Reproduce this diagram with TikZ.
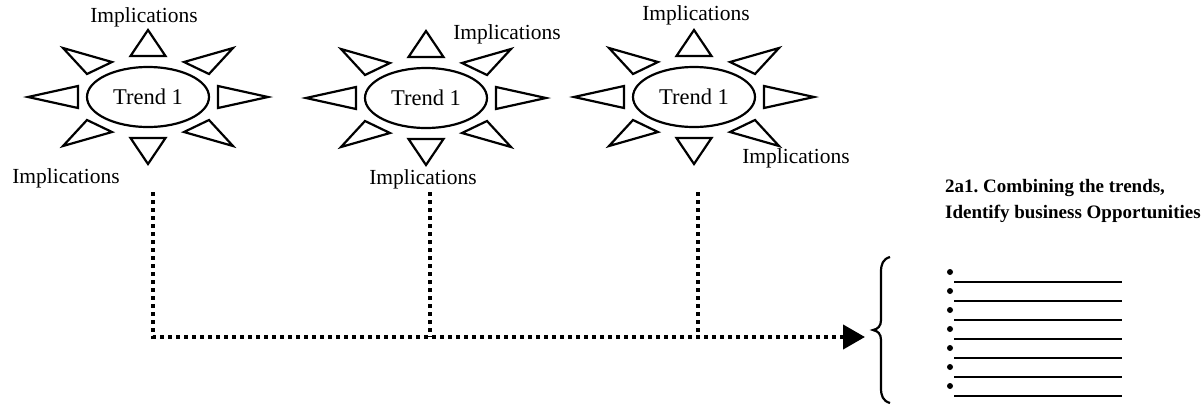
\documentclass[tikz,border=0pt]{standalone}
\usepackage{fontspec}
\setmainfont{Liberation Serif}
\usetikzlibrary{arrows.meta,shapes.geometric}

% eight outlined triangular rays around a centre point
\newcommand\sunrays[1]{%
  \begin{scope}[shift={(#1)}]
    \draw[ray] (0,-67) -- (-17.5,-41) -- (17.5,-41) -- cycle;
    \draw[ray] (0,67) -- (-17.5,41) -- (17.5,41) -- cycle;
    \draw[ray] (-120,0) -- (-70,-11) -- (-70,11) -- cycle;
    \draw[ray] (120,0) -- (70,-11) -- (70,11) -- cycle;
    \draw[ray] (-85,-49) -- (-36,-35) -- (-61,-23) -- cycle;
    \draw[ray] (85,-49) -- (36,-35) -- (61,-23) -- cycle;
    \draw[ray] (-85,49) -- (-36,35) -- (-61,23) -- cycle;
    \draw[ray] (85,49) -- (36,35) -- (61,23) -- cycle;
  \end{scope}}

\begin{document}
\frenchspacing
\begin{tikzpicture}[x=1pt,y=-1pt,
  ray/.style={draw,line width=2.2pt,line join=miter},
  core/.style={draw,ellipse,line width=2.2pt,minimum width=122pt,
    minimum height=60pt,inner sep=0pt,font=\fontsize{22.5}{24}\selectfont},
  impl/.style={inner sep=0pt,font=\fontsize{21.5}{24}\selectfont},
  flow/.style={line width=4.2pt,dash pattern=on 4.2pt off 3.8pt},
  head/.style={inner sep=0pt,align=left,
    font=\bfseries\fontsize{19}{26.5}\selectfont},
  item/.style={line width=2pt}]

\useasboundingbox (0,0) rectangle (1204,405);

% trend suns
\node[core] (t1) at (148,97) {Trend 1};
\node[core] (t2) at (426,98) {Trend 1};
\node[core] (t3) at (694,97) {Trend 1};
\sunrays{t1.center}
\sunrays{t2.center}
\sunrays{t3.center}

% implication labels
\node[impl] (i1a) at (144,17) {Implications};
\node[impl] (i1b) at (66,178) {Implications};
\node[impl] (i2a) at (507,34) {Implications};
\node[impl] (i2b) at (423,179) {Implications};
\node[impl] (i3a) at (696,15) {Implications};
\node[impl] (i3b) at (796,158) {Implications};

% dotted feeds into the combined result
\coordinate (d1) at (153,192);
\coordinate (d2) at (430,192);
\coordinate (d3) at (698,192);
\coordinate (j1) at (153,337);
\coordinate (j2) at (430,337);
\coordinate (j3) at (698,337);
\coordinate (tip) at (865,337);
\draw[flow,-{Triangle[length=22pt,width=24pt]}] (d1) -- (j1) -- (tip);
\draw[flow] (d2) -- (j2);
\draw[flow] (d3) -- (j3);

% heading
\node[head,anchor=north west] (title) at (945,179)
  {2a1. Combining the trends,\\Identify business Opportunities};

% brace
\draw[line width=2.2pt] (890,257) .. controls (883,259) and (881,264) .. (881,272)
  -- (881,320) .. controls (881,326) and (878,329) .. (873,330)
  .. controls (878,331) and (881,334) .. (881,340)
  -- (881,388) .. controls (881,396) and (883,401) .. (890,403);

% bullet list of blank lines
\foreach \k in {0,...,6}{
  \fill (950,{272+19*\k}) circle[radius=3pt];
  \draw[item] (954,{282+19*\k}) -- (1122,{282+19*\k});
}
\end{tikzpicture}
\end{document}
